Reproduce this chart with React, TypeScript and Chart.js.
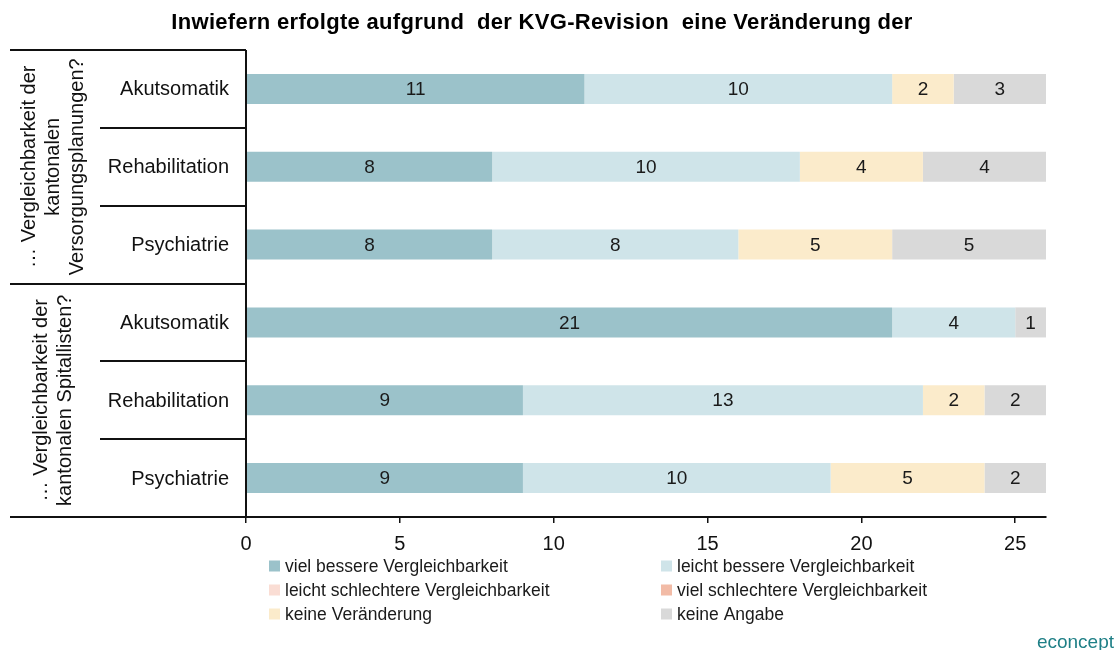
import React, { useEffect, useRef } from "react";
import { Chart, registerables } from "chart.js";

Chart.register(...registerables);

const titleText = "Inwiefern erfolgte aufgrund  der KVG-Revision  eine Veränderung der";
const categories = ["Akutsomatik", "Rehabilitation", "Psychiatrie", "Akutsomatik", "Rehabilitation", "Psychiatrie"];
const groupLabels = [
  ["… Vergleichbarkeit der", "kantonalen", "Versorgungsplanungen?"],
  ["… Vergleichbarkeit der", "kantonalen Spitallisten?"],
];
const groupSizes = [3, 3];

const seriesNames = [
  "viel bessere Vergleichbarkeit",
  "leicht bessere Vergleichbarkeit",
  "leicht schlechtere Vergleichbarkeit",
  "viel schlechtere Vergleichbarkeit",
  "keine Veränderung",
  "keine Angabe",
];
const seriesColors = ["#9BC2CA", "#CFE4E9", "#FADDD4", "#F2BBA6", "#FBEBCB", "#D9D9D9"];

const vielBesser = [11, 8, 8, 21, 9, 9];
const leichtBesser = [10, 10, 8, 4, 13, 10];
const leichtSchlechter = [0, 0, 0, 0, 0, 0];
const vielSchlechter = [0, 0, 0, 0, 0, 0];
const keineVeraenderung = [2, 4, 5, 0, 2, 5];
const keineAngabe = [3, 4, 5, 1, 2, 2];

const xMin = 0;
const xMax = 26;
const xStep = 5;

const FONT = "'Liberation Sans', Arial, sans-serif";

const decorPlugin = {
  id: "decor",
  afterDatasetsDraw(chart: any) {
    const ctx = chart.ctx;
    ctx.save();
    ctx.font = `19px ${FONT}`;
    ctx.fillStyle = "#1a1a1a";
    ctx.textAlign = "center";
    ctx.textBaseline = "middle";
    chart.data.datasets.forEach((ds: any, di: number) => {
      const meta = chart.getDatasetMeta(di);
      meta.data.forEach((el: any, i: number) => {
        const v = ds.data[i];
        if (!v) return;
        const p = el.getProps(["x", "y", "base"], true);
        ctx.fillText(String(v), (p.x + p.base) / 2, p.y + 1);
      });
    });
    ctx.restore();
  },
  afterDraw(chart: any) {
    const ctx = chart.ctx;
    const area = chart.chartArea;
    const yScale = chart.scales.y;
    const n = categories.length;
    const rowH = (area.bottom - area.top) / n;
    ctx.save();
    ctx.strokeStyle = "#111";
    ctx.lineWidth = 2;
    const gx0 = 10;
    const cx0 = 100;
    ctx.beginPath();
    ctx.moveTo(area.left, area.top);
    ctx.lineTo(area.left, area.bottom);
    ctx.stroke();
    let start = 0;
    const boundaries = [0];
    groupSizes.forEach((s) => {
      start += s;
      boundaries.push(start);
    });
    boundaries.forEach((b) => {
      const y = Math.round(area.top + b * rowH);
      ctx.beginPath();
      ctx.moveTo(gx0, y);
      ctx.lineTo(area.left, y);
      ctx.stroke();
    });
    for (let i = 1; i < n; i++) {
      if (boundaries.includes(i)) continue;
      const y = Math.round(area.top + i * rowH);
      ctx.beginPath();
      ctx.moveTo(cx0, y);
      ctx.lineTo(area.left, y);
      ctx.stroke();
    }
    ctx.fillStyle = "#111";
    ctx.font = `20px ${FONT}`;
    ctx.textAlign = "right";
    ctx.textBaseline = "middle";
    categories.forEach((c, i) => {
      ctx.fillText(c, 229, yScale.getPixelForValue(i) + 1);
    });
    ctx.font = `20px ${FONT}`;
    ctx.textAlign = "center";
    ctx.textBaseline = "middle";
    let s0 = 0;
    groupLabels.forEach((lines, gi) => {
      const yTop = area.top + s0 * rowH;
      const yBot = area.top + (s0 + groupSizes[gi]) * rowH;
      s0 += groupSizes[gi];
      const cy = (yTop + yBot) / 2;
      const cx = 53;
      ctx.save();
      ctx.translate(cx, cy);
      ctx.rotate(-Math.PI / 2);
      const lh = 24;
      lines.forEach((l, li) => {
        ctx.fillText(l, 0, (li - (lines.length - 1) / 2) * lh);
      });
      ctx.restore();
    });
    // title
    ctx.save();
    ctx.font = `bold 22px ${FONT}`;
    (ctx as any).letterSpacing = "0.3px";
    ctx.textAlign = "center";
    ctx.fillStyle = "#000";
    ctx.fillText(titleText, 542, 23);
    ctx.restore();
    // legend
    ctx.font = `17.5px ${FONT}`;
    ctx.textAlign = "left";
    ctx.textBaseline = "middle";
    const colBox = [269, 661];
    const rowY = [566, 590, 614];
    seriesNames.forEach((name, i) => {
      const col = i % 2;
      const row = Math.floor(i / 2);
      ctx.fillStyle = seriesColors[i];
      ctx.fillRect(colBox[col], rowY[row] - 5.5, 11, 11);
      ctx.fillStyle = "#1a1a1a";
      ctx.fillText(name, colBox[col] + 16, rowY[row] + 1);
    });
    ctx.strokeStyle = "#111";
    ctx.beginPath();
    ctx.moveTo(gx0, Math.round(area.bottom));
    ctx.lineTo(area.left, Math.round(area.bottom));
    ctx.stroke();
    ctx.font = `19px ${FONT}`;
    ctx.fillStyle = "#1E7F86";
    ctx.textAlign = "right";
    ctx.fillText("econcept", 1114, 643);
    ctx.restore();
  },
};

export default function App() {
  const ref = useRef<HTMLCanvasElement | null>(null);
  useEffect(() => {
    document.body.style.margin = "0";
    const canvas = ref.current;
    if (!canvas) return;
    const data = [vielBesser, leichtBesser, leichtSchlechter, vielSchlechter, keineVeraenderung, keineAngabe];
    const chart = new Chart(canvas, {
      type: "bar",
      data: {
        labels: categories,
        datasets: data.map((d, i) => ({
          label: seriesNames[i],
          data: d,
          backgroundColor: seriesColors[i],
          borderWidth: 0,
          barPercentage: 0.386,
          categoryPercentage: 1,
        })),
      },
      options: {
        indexAxis: "y",
        responsive: false,
        animation: false,
        layout: { padding: { left: 246, right: 69, top: 50, bottom: 93 } },
        plugins: {
          legend: { display: false },
          title: { display: false },
          tooltip: { enabled: false },
        },
        scales: {
          y: {
            type: "category",
            stacked: true,
            display: false,
          },
          x: {
            type: "linear",
            stacked: true,
            min: xMin,
            max: xMax,
            afterFit: (scale: any) => {
              scale.height = 40;
            },
            ticks: {
              stepSize: xStep,
              includeBounds: false,
              color: "#111",
              font: { family: FONT, size: 20 },
              padding: 9,
              maxRotation: 0,
            },
            grid: {
              drawOnChartArea: false,
              drawTicks: true,
              tickLength: 6,
              color: "#111",
              lineWidth: 1.5,
            },
            border: { display: true, color: "#111", width: 2 },
          },
        },
      },
      plugins: [decorPlugin],
    } as any);
    return () => chart.destroy();
  }, []);
  return <canvas ref={ref} width={1115} height={650} style={{ display: "block" }} />;
}
